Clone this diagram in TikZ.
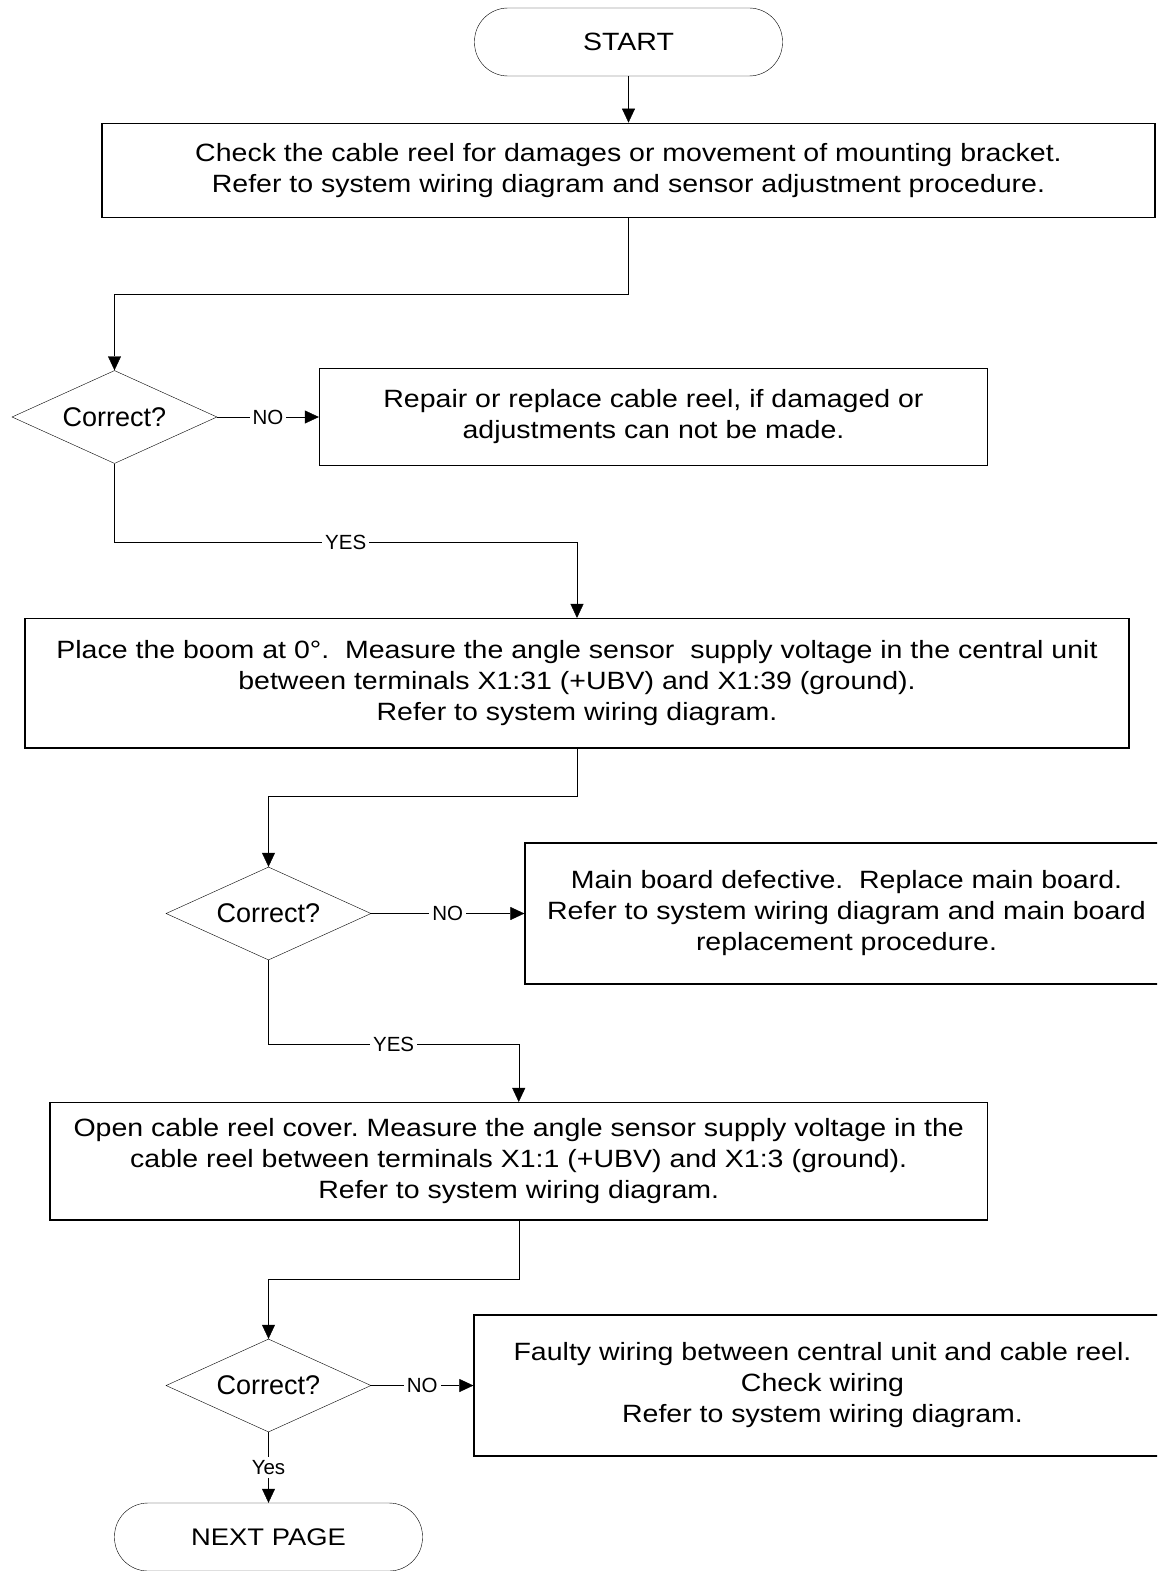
\documentclass[tikz,border=0pt]{standalone}
\usepackage{fontspec}
\setmainfont{Liberation Sans}
\newfontfamily\boxfont[FakeStretch=1.14]{Liberation Sans}
\usetikzlibrary{arrows.meta,shapes.geometric}
\frenchspacing
\tikzset{
	x=1pt, y=-1pt, % pixel grid, y going down
	>={Triangle[width=13pt,length=14pt]}, % filled arrow heads
	line width=1.1pt,
	every node/.style={font=\boxfont\fontsize{25}{31}\selectfont, align=center},
	box/.style={draw, rectangle, inner sep=0pt, line width=1.3pt},
	decision/.style={draw, diamond, aspect=2.2, inner sep=0pt, minimum width=205pt, minimum height=93pt,
		font=\normalfont\fontsize{27}{31}\selectfont},
	terminal/.style={draw, rectangle, rounded corners=33.5pt, minimum width=308pt, minimum height=68pt},
	answer/.style={fill=white, inner sep=3pt, font=\normalfont\fontsize{20.5}{24}\selectfont},
}
\begin{document}
\begin{tikzpicture}
	\path[use as bounding box] (0,0) rectangle (1157,1571);
	\clip (0,0) rectangle (1157,1571);

	\node[terminal] (start) at (628.5,42) {START};
	\node[box, minimum width=1053pt, minimum height=94.5pt] (check) at (628.5,170.5)
		{Check the cable reel for damages or movement of mounting bracket.\\Refer to system wiring diagram and sensor adjustment procedure.};
	\node[decision] (ok1) at (114.5,417) {Correct?};
	\node[box, minimum width=668pt, minimum height=96.7pt] (repair) at (653.5,417)
		{Repair or replace cable reel, if damaged or\\adjustments can not be made.};
	\node[box, minimum width=1104pt, minimum height=129.4pt] (boom) at (577,683.3)
		{Place the boom at 0°.\ \ Measure the angle sensor\ \ supply voltage in the central unit\\between terminals X1:31 (+UBV) and X1:39 (ground).\\Refer to system wiring diagram.};
	\node[decision] (ok2) at (268.5,913.5) {Correct?};
	\node[box, minimum width=643pt, minimum height=141pt] (mainboard) at (846.5,913.5)
		{Main board defective.\ \ Replace main board.\\Refer to system wiring diagram and main board\\replacement procedure.};
	\node[box, minimum width=937.5pt, minimum height=117.4pt] (reel) at (518.75,1161.3)
		{Open cable reel cover. Measure the angle sensor supply voltage in the\\cable reel between terminals X1:1 (+UBV) and X1:3 (ground).\\Refer to system wiring diagram.};
	\node[decision] (ok3) at (268.5,1385.5) {Correct?};
	\node[box, minimum width=697pt, minimum height=141pt] (wiring) at (822.5,1385.5)
		{Faulty wiring between central unit and cable reel.\\Check wiring\\Refer to system wiring diagram.};
	\node[terminal, font=\boxfont\fontsize{24}{30}\selectfont] (next) at (268.5,1537) {NEXT PAGE};

	\coordinate (bend1) at (628.5,294);
	\coordinate (bend2) at (577,542);
	\coordinate (bend3) at (577,796);
	\coordinate (bend4) at (518.75,1044);
	\coordinate (bend5) at (518.75,1279);

	\draw[->] (start) -- (check);
	\draw[->] (check) -- (bend1) -| (ok1);
	\draw[->] (ok1) -- node[answer]{NO} (repair);
	\draw[->] (ok1) |- node[answer, pos=0.75]{YES} (bend2) -- (boom);
	\draw[->] (boom) -- (bend3) -| (ok2);
	\draw[->] (ok2) -- node[answer]{NO} (mainboard);
	\draw[->] (ok2) |- node[answer, pos=0.75]{YES} (bend4) -- (reel);
	\draw[->] (reel) -- (bend5) -| (ok3);
	\draw[->] (ok3) -- node[answer]{NO} (wiring);
	\draw[->] (ok3) -- node[answer]{Yes} (next);
\end{tikzpicture}
\end{document}
